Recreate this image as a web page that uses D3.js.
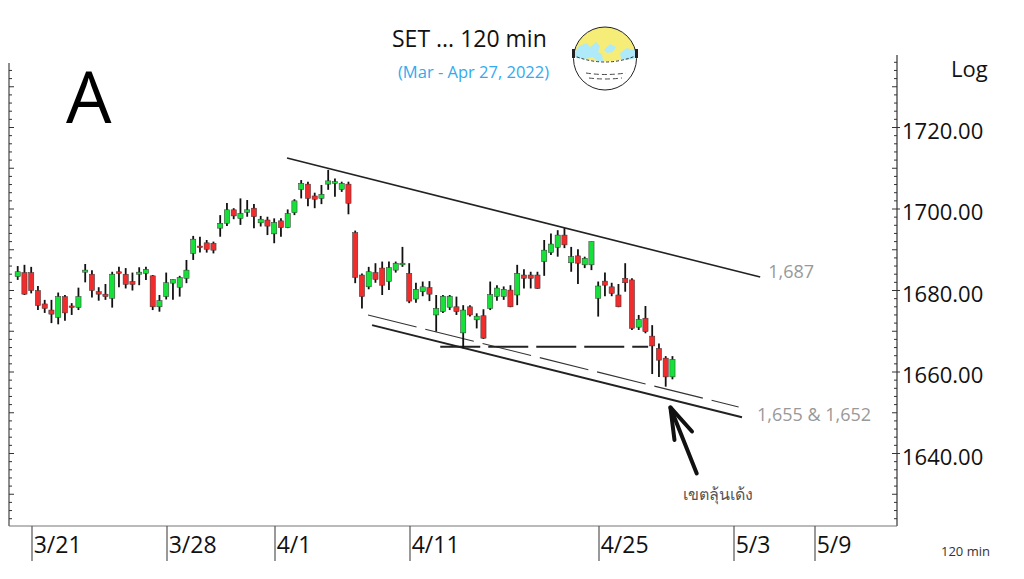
<!DOCTYPE html>
<html>
<head>
<meta charset="utf-8">
<title>SET 120 min</title>
<script src="https://cdnjs.cloudflare.com/ajax/libs/d3/7.8.5/d3.min.js"></script>
<style>
  body { margin: 0; background: #fff; }
  svg text { font-family: "Open Sans", sans-serif; }
</style>
</head>
<body>
<script>
var width = 1024, height = 579;

// 120 min bars, slot index 0..97 (4 bars per trading day)
var opens = [1683.4,1684.4,1684.4,1680.0,1676.7,1675.2,1673.4,1678.5,1676.2,1675.8,
  1684.5,1684.0,1679.7,1679.1,1678.1,1684.6,1684.0,1682.2,1684.0,1684.2,
  1683.6,1676.0,1678.5,1681.8,1680.8,1683.0,1689.1,1690.9,1691.7,1691.6,
  1695.3,1696.5,1699.8,1697.7,1699.2,1700.2,1696.6,1697.3,1693.9,1697.1,
  1695.4,1699.1,1704.8,1706.1,1703.2,1702.6,1706.1,1706.3,1704.8,1706.1,
  1694.2,1683.8,1680.9,1684.4,1685.5,1682.2,1685.0,1686.3,1684.2,1677.9,
  1679.7,1680.7,1674.0,1674.8,1675.9,1676.0,1669.6,1676.0,1672.8,1673.8,
  1675.6,1678.5,1678.5,1680.1,1678.9,1683.8,1683.8,1683.8,1687.1,1689.3,
  1690.6,1693.6,1686.8,1688.5,1686.3,1686.3,1678.1,1682.3,1680.9,1678.9,
  1683.0,1682.6,1671.0,1673.2,1668.8,1665.8,1663.4,1658.8];
var highs = [1686.0,1686.3,1685.8,1681.1,1677.7,1677.7,1679.5,1678.9,1676.9,1680.7,
  1686.5,1685.0,1680.8,1681.6,1684.6,1685.8,1685.5,1684.4,1685.7,1685.8,
  1683.8,1678.9,1684.4,1682.7,1683.6,1687.5,1693.4,1693.2,1692.4,1692.0,
  1698.5,1701.5,1700.2,1702.6,1702.2,1701.2,1698.3,1698.1,1697.7,1697.7,
  1699.9,1702.4,1707.1,1706.7,1704.0,1705.9,1709.6,1707.5,1706.7,1706.7,
  1694.7,1684.2,1685.8,1686.7,1687.1,1687.1,1687.1,1690.7,1686.7,1681.9,
  1682.2,1682.3,1678.9,1678.9,1678.9,1678.5,1676.4,1676.4,1674.4,1675.4,
  1682.2,1681.3,1681.0,1681.3,1686.3,1685.2,1684.6,1684.6,1692.4,1694.0,
  1694.8,1695.3,1690.7,1690.1,1688.3,1692.0,1682.2,1684.4,1681.9,1681.6,
  1686.7,1683.0,1674.0,1676.2,1671.5,1667.0,1663.9,1663.9];
var lows = [1682.6,1678.9,1679.3,1675.2,1674.5,1672.0,1671.7,1672.6,1674.0,1675.2,
  1682.0,1678.3,1677.5,1677.7,1675.8,1680.8,1680.5,1680.0,1681.3,1682.6,
  1675.2,1674.8,1677.8,1677.7,1678.5,1681.8,1687.5,1689.3,1689.3,1689.1,
  1693.2,1695.8,1697.5,1696.1,1698.1,1695.3,1695.7,1693.6,1691.6,1693.2,
  1695.3,1698.5,1702.6,1700.7,1700.2,1701.2,1704.7,1703.0,1704.2,1698.7,
  1681.8,1675.6,1680.3,1681.9,1678.9,1680.1,1684.4,1685.8,1676.9,1677.0,
  1678.6,1677.4,1669.9,1674.5,1675.2,1674.0,1665.8,1673.6,1670.7,1668.1,
  1675.2,1677.5,1677.7,1675.9,1676.4,1680.5,1680.5,1680.4,1683.6,1688.7,
  1688.3,1690.4,1684.6,1681.6,1685.5,1685.0,1673.6,1678.6,1678.6,1675.9,
  1679.7,1670.3,1670.3,1669.5,1659.5,1658.8,1656.4,1658.2];
var closes = [1684.6,1679.1,1680.0,1676.3,1675.6,1674.2,1678.5,1674.5,1675.9,1678.5,
  1685.0,1680.0,1679.1,1678.5,1684.0,1684.2,1681.5,1681.5,1684.5,1685.2,
  1676.0,1677.5,1681.9,1682.7,1683.2,1685.0,1692.6,1690.6,1690.1,1689.9,
  1696.5,1699.8,1698.3,1698.9,1699.8,1698.1,1697.5,1695.8,1696.7,1695.4,
  1698.9,1702.0,1706.3,1702.6,1702.4,1703.6,1706.9,1706.7,1706.3,1701.4,
  1683.2,1678.5,1684.6,1682.7,1681.3,1685.6,1686.7,1686.7,1677.4,1680.3,
  1680.9,1679.1,1675.6,1678.6,1678.6,1674.8,1675.2,1674.0,1673.7,1668.3,
  1679.0,1680.6,1680.3,1676.0,1684.2,1683.0,1683.0,1680.5,1689.9,1691.4,
  1693.6,1691.2,1688.3,1686.7,1687.9,1692.0,1681.1,1681.3,1679.3,1676.0,
  1681.9,1670.7,1672.9,1669.9,1666.4,1662.9,1658.8,1663.1];

var dateLabels = ["3/21", "3/28", "4/1", "4/11", "4/25", "5/3", "5/9"];
var dateSlots = [2, 22, 38, 58, 86, 106, 118];
var priceLabels = [1640, 1660, 1680, 1700, 1720];

// drawn trendlines [slot, price]
var upperLine = [[39.9, 1712.5], [110.0, 1683.3]];
var lowerLine = [[52.5, 1671.5], [107.3, 1648.9]];
var dashLine = [[51.9, 1674.0], [106.8, 1651.4]];
var flatLine = [[62.6, 1666.2], [93.4, 1666.2]];
var arrowShaft = [[100.6, 1635.1], [96.7, 1651.3]];
var arrowHead = [[97.3, 1643.3], [96.7, 1651.3], [99.9, 1645.4]];

var svg = d3.select("body").append("svg")
    .attr("width", width).attr("height", height);

var plotLeft = 9, plotRight = 897, plotTop = 63, plotBottom = 526;

var x = d3.scaleLinear().domain([0, 118]).range([17.7, 814.2]);
var y = d3.scaleLinear().domain([1640, 1720]).range([453.5, 127.5]);

// frame
svg.append("line").attr("x1", plotLeft).attr("x2", plotLeft).attr("y1", plotTop).attr("y2", plotBottom)
    .attr("stroke", "#444").attr("stroke-width", 1.2);
svg.append("line").attr("x1", plotRight).attr("x2", plotRight).attr("y1", 55).attr("y2", plotBottom)
    .attr("stroke", "#333").attr("stroke-width", 1.2);
svg.append("line").attr("x1", plotLeft).attr("x2", plotRight).attr("y1", plotBottom).attr("y2", plotBottom)
    .attr("stroke", "#777").attr("stroke-width", 1.2);

// minor ticks every 2 points
var tickVals = d3.range(1624, 1736, 2).filter(function(v) { return y(v) > plotTop && y(v) < plotBottom; });
svg.selectAll(".ltick").data(tickVals).enter().append("line")
    .attr("x1", plotLeft).attr("x2", function(v) { return v % 10 == 0 ? plotLeft + 5 : plotLeft + 3; })
    .attr("y1", function(v) { return y(v); }).attr("y2", function(v) { return y(v); })
    .attr("stroke", "#333").attr("stroke-width", 1);
var rTickVals = d3.range(1624, 1738, 2).filter(function(v) { return y(v) > 55 && y(v) < plotBottom; });
svg.selectAll(".rtick").data(rTickVals).enter().append("line")
    .attr("x1", function(v) { return v % 10 == 0 ? plotRight - 5 : plotRight - 3; })
    .attr("x2", function(v) { return v % 20 == 0 ? plotRight + 3 : plotRight; })
    .attr("y1", function(v) { return y(v); }).attr("y2", function(v) { return y(v); })
    .attr("stroke", "#333").attr("stroke-width", 1);

svg.selectAll(".plab").data(priceLabels).enter().append("text")
    .attr("x", 902).attr("y", function(v) { return y(v) + 11; })
    .attr("font-size", 22).attr("fill", "#111")
    .text(function(v) { return d3.format(".2f")(v); });

svg.append("text").attr("x", 951).attr("y", 77).attr("font-size", 22).attr("fill", "#111").text("Log");

// date ticks
svg.selectAll(".dtick").data(dateSlots).enter().append("line")
    .attr("x1", function(d) { return x(d) + 0.8; }).attr("x2", function(d) { return x(d) + 0.8; })
    .attr("y1", plotBottom).attr("y2", 561)
    .attr("stroke", "#555").attr("stroke-width", 1.2);
svg.selectAll(".dlab").data(dateSlots).enter().append("text")
    .attr("x", function(d) { return x(d) + 2.5; }).attr("y", 553)
    .attr("font-size", 23).attr("fill", "#111")
    .text(function(d, i) { return dateLabels[i]; });

// trendlines
var line = d3.line().x(function(d) { return x(d[0]); }).y(function(d) { return y(d[1]); });
svg.append("path").attr("d", line(upperLine)).attr("fill", "none")
    .attr("stroke", "#222").attr("stroke-width", 1.6);
svg.append("path").attr("d", line(lowerLine)).attr("fill", "none")
    .attr("stroke", "#222").attr("stroke-width", 2);
svg.append("path").attr("d", line(dashLine)).attr("fill", "none")
    .attr("stroke", "#333").attr("stroke-width", 1.1).attr("stroke-dasharray", "50,9");
svg.append("path").attr("d", line(flatLine)).attr("fill", "none")
    .attr("stroke", "#222").attr("stroke-width", 2).attr("stroke-dasharray", "40,8");

// candles
var idx = d3.range(opens.length);
var candles = svg.append("g");
candles.selectAll(".wick").data(idx).enter().append("line")
    .attr("x1", function(i) { return x(i); }).attr("x2", function(i) { return x(i); })
    .attr("y1", function(i) { return y(highs[i]); }).attr("y2", function(i) { return y(lows[i]); })
    .attr("stroke", "#111").attr("stroke-width", 1.8);
candles.selectAll(".body").data(idx).enter().append("rect")
    .attr("x", function(i) { return x(i) - 2.6; })
    .attr("width", 5.2)
    .attr("y", function(i) { return Math.min(y(opens[i]), y(closes[i])); })
    .attr("height", function(i) { return Math.max(1.5, Math.abs(y(opens[i]) - y(closes[i]))); })
    .attr("fill", function(i) { return closes[i] >= opens[i] ? "#17e03a" : "#f02c2c"; })
    .attr("stroke", "#333").attr("stroke-width", 0.5);

// annotations
svg.append("text").attr("x", x(upperLine[1][0]) + 8).attr("y", y(upperLine[1][1]) + 1)
    .attr("font-family", "Liberation Sans, Arial, sans-serif")
    .attr("font-size", 18).attr("fill", "#999").text("1,687");
svg.append("text").attr("x", x(lowerLine[1][0]) + 15).attr("y", y(lowerLine[1][1]) + 4)
    .attr("font-family", "Liberation Sans, Arial, sans-serif")
    .attr("font-size", 18).attr("fill", "#999").text("1,655 & 1,652");

svg.append("path").attr("d", line(arrowShaft)).attr("fill", "none")
    .attr("stroke", "#111").attr("stroke-width", 4).attr("stroke-linecap", "round");
svg.append("path").attr("d", line(arrowHead)).attr("fill", "none")
    .attr("stroke", "#111").attr("stroke-width", 4)
    .attr("stroke-linecap", "round").attr("stroke-linejoin", "round");

svg.append("text").attr("x", 683).attr("y", 500)
    .attr("font-family", "Noto Sans Thai, Loma, Garuda, Tlwg Typist, DejaVu Sans, sans-serif")
    .attr("font-size", 16).attr("fill", "#555").text("เขตลุ้นเด้ง");

svg.append("text").attr("x", 941).attr("y", 556)
    .attr("font-family", "Liberation Mono, DejaVu Sans Mono, monospace")
    .attr("font-size", 13).attr("fill", "#333").text("120 min");

// title
svg.append("text").attr("x", 392).attr("y", 47)
    .attr("font-family", "Liberation Sans, Arial, sans-serif")
    .attr("font-size", 23).attr("fill", "#111").text("SET ... 120 min");
svg.append("text").attr("x", 398).attr("y", 78)
    .attr("font-family", "Liberation Sans, Arial, sans-serif")
    .attr("font-size", 16.5).attr("fill", "#33aaee").text("(Mar - Apr 27, 2022)");

svg.append("text").attr("x", 66).attr("y", 123)
    .attr("font-family", "Liberation Sans, Arial, sans-serif")
    .attr("font-size", 72).attr("fill", "#000").text("A");

// globe icon
var gx = 605, gy = 58.5, gr = 31.5;
var globe = svg.append("g");
svg.append("clipPath").attr("id", "gclip").append("circle")
    .attr("cx", gx).attr("cy", gy).attr("r", gr);
var gc = globe.append("g").attr("clip-path", "url(#gclip)");
gc.append("rect").attr("x", gx - gr).attr("y", gy - gr).attr("width", 2 * gr).attr("height", 2 * gr).attr("fill", "#fff");
gc.append("path").attr("d", "M570,20 L640,20 L640,55 Q605,68 570,55 Z").attr("fill", "#f6ec78");
gc.append("path")
    .attr("d", "M574,54 L579,46 L587,43 L590,47 L596,42 L600,46 L598,52 L602,54 L603,61 L597,61 L593,57 L585,59 L576,58 Z")
    .attr("fill", "#aeeafa");
gc.append("path")
    .attr("d", "M604,50 L610,44 L616,47 L613,52 L607,53 Z")
    .attr("fill", "#aeeafa");
gc.append("path")
    .attr("d", "M620,53 L627,48 L632,50 L638,48 L640,57 L628,60 L621,59 Z")
    .attr("fill", "#aeeafa");
gc.append("path").attr("d", "M572,55 Q605,69 638,55").attr("fill", "none")
    .attr("stroke", "#222").attr("stroke-width", 0.9).attr("stroke-dasharray", "3,2");
gc.append("path").attr("d", "M586,73 Q605,76 626,73").attr("fill", "none")
    .attr("stroke", "#333").attr("stroke-width", 0.9).attr("stroke-dasharray", "5,3");
gc.append("path").attr("d", "M589,78 Q605,80 622,78").attr("fill", "none")
    .attr("stroke", "#333").attr("stroke-width", 0.9).attr("stroke-dasharray", "5,3");
globe.append("circle").attr("cx", gx).attr("cy", gy).attr("r", gr)
    .attr("fill", "none").attr("stroke", "#222").attr("stroke-width", 1);
globe.append("rect").attr("x", gx - gr - 1.5).attr("y", 49).attr("width", 3).attr("height", 9).attr("fill", "#222");
globe.append("rect").attr("x", gx + gr - 1.5).attr("y", 49).attr("width", 3).attr("height", 9).attr("fill", "#222");
</script>
</body>
</html>
